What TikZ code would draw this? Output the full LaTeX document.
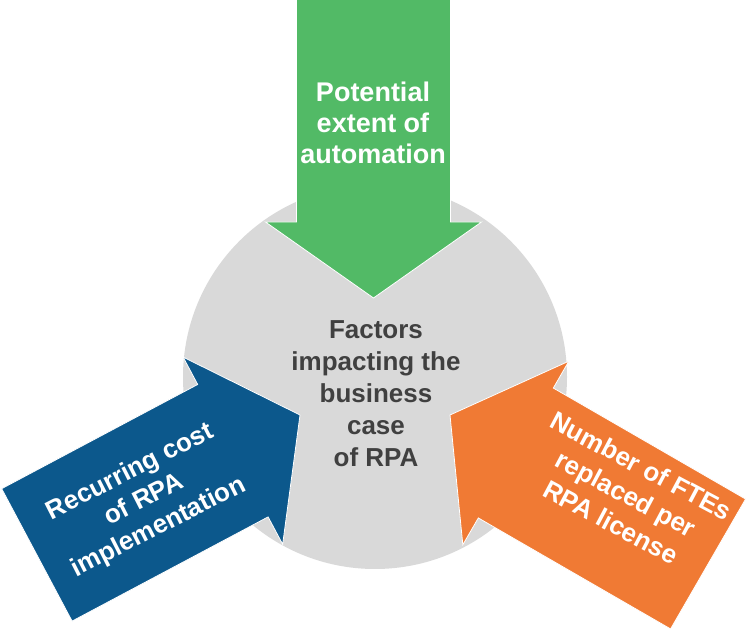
\documentclass[tikz,border=0pt]{standalone}
\usepackage{fontspec}
\setmainfont{Liberation Sans}
\definecolor{circgray}{RGB}{217,217,217}
\definecolor{arrgreen}{RGB}{82,186,102}
\definecolor{arrblue}{RGB}{12,88,140}
\definecolor{arrorange}{RGB}{240,122,52}
\definecolor{txtgray}{RGB}{64,64,64}
\tikzset{
  arrowshape/.style={draw=white, line width=0.8pt, line join=miter},
  arrtext/.style={text=white, font=\bfseries\fontsize{27}{31}\selectfont, align=center, inner sep=0pt},
  centertext/.style={text=txtgray, font=\bfseries\fontsize{26}{32}\selectfont, align=center, inner sep=0pt}
}
\newcommand\rpaArrowPath{(0,0) -- (-76,106) -- (-76,75) -- (-298,75) -- (-298,-75) -- (-76,-75) -- (-76,-106) -- cycle}
\begin{document}
\begin{tikzpicture}[x=1pt,y=1pt]
\useasboundingbox (0,0) rectangle (747,629);
\fill[white] (0,0) rectangle (747,629);
% circle
\fill[circgray] (375,252) circle (192);
% green arrow
\begin{scope}[shift={(373.5,331)}, rotate=270]
  \fill[arrgreen, arrowshape] (0,0) -- (-76,108) -- (-76,77) -- (-300,77) -- (-300,-77) -- (-76,-77) -- (-76,-108) -- cycle;
\end{scope}
% blue arrow
\begin{scope}[shift={(300,214)}, rotate=28]
  \fill[arrblue, arrowshape] \rpaArrowPath;
\end{scope}
% orange arrow
\begin{scope}[shift={(450,214)}, rotate=150]
  \fill[arrorange, arrowshape] \rpaArrowPath;
\end{scope}
% texts
\node[centertext] (center) at (376,235) {Factors\\impacting the\\business\\case\\of RPA};
\node[arrtext] (tgreen) at (373,506) {Potential\\extent of\\automation};
\node[arrtext, rotate=27, font=\bfseries\fontsize{26}{31}\selectfont] (tblue) at (144.5,129) {Recurring cost\\of RPA\\implementation};
\node[arrtext, rotate=-28, font=\bfseries\fontsize{26}{32}\selectfont] (torange) at (626,135) {Number of FTEs\\replaced per\\RPA license};
\end{tikzpicture}
\end{document}
